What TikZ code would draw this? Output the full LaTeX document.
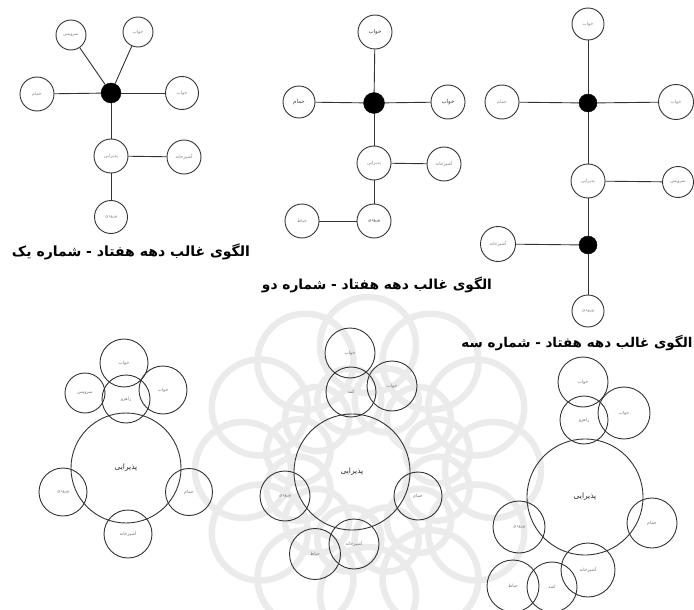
\documentclass[tikz,border=0pt]{standalone}
\usepackage{fontspec}
\usepackage{graphicx}
\usetikzlibrary{calc}
\newfontfamily\arabicfont[Script=Arabic]{DejaVu Sans}
\TeXXeTstate=1
\newcommand{\fa}[1]{{\arabicfont\beginR #1\endR}}
\begin{document}
\begin{tikzpicture}[x=1pt,y=-1pt,
  gnode/.style={circle, draw=black!80, line width=0.9pt, fill=white, inner sep=0pt, text=black!50, font=\fontsize{4.5}{5}\selectfont},
  hubnode/.style={circle, draw=black, fill=black, inner sep=0pt},
  bub/.style={circle, draw=black!80, line width=0.9pt, inner sep=0pt, text=black!55, font=\fontsize{4.5}{5}\selectfont},
  bigbub/.style={bub, text=black!85, font=\fontsize{7.5}{8}\selectfont},
  edge/.style={draw=black!80, line width=0.9pt},
  captext/.style={inner sep=0pt, text=black},
  wm/.style={draw=black!8, line width=6.5pt}]
\path[use as bounding box] (0,0) rectangle (694,610);
\begin{scope}
\clip (0,0) rectangle (694,610);
% watermark rosette
\foreach \a in {0,30,...,330}{
  \draw[wm] ($(368,470)+(\a:125)$) circle[radius=48];
  \draw[wm] ($(368,470)+(\a+15:72)$) circle[radius=32];
}
\end{scope}

% ---------- graph 1 ----------
\node[hubnode, minimum size=20] (h1) at (111,93) {};
\node[gnode, minimum size=30] (a1) at (71,35) {\fa{سرویس}};
\node[gnode, minimum size=30] (b1) at (138,32) {\fa{خواب}};
\node[gnode, minimum size=33] (c1) at (182,93) {\fa{خواب}};
\node[gnode, minimum size=34] (d1) at (37,94) {\fa{حمام}};
\node[gnode, minimum size=34] (e1) at (111,156) {\fa{پذیرایی}};
\node[gnode, minimum size=34] (f1) at (184,157) {\fa{آشپزخانه}};
\node[gnode, minimum size=33] (g1) at (111,217) {\fa{ورودی}};
\draw[edge] (h1) -- (a1);
\draw[edge] (h1) -- (b1);
\draw[edge] (h1) -- (c1);
\draw[edge] (h1) -- (d1);
\draw[edge] (h1) -- (e1);
\draw[edge] (e1) -- (f1);
\draw[edge] (e1) -- (g1);
\node[captext] (cap1) at (131,252) {\resizebox{238pt}{!}{\fa{\bfseries الگوی غالب دهه هفتاد - شماره یک}}};

% ---------- graph 2 ----------
\node[hubnode, minimum size=21] (h2) at (374,103) {};
\node[gnode, minimum size=34, text=black!75, font=\fontsize{5.5}{6}\selectfont] (a2) at (375,32) {\fa{خواب}};
\node[gnode, minimum size=32, text=black!75, font=\fontsize{5.5}{6}\selectfont] (b2) at (299,102) {\fa{حمام}};
\node[gnode, minimum size=34, text=black!75, font=\fontsize{5.5}{6}\selectfont] (c2) at (448,102) {\fa{خواب}};
\node[gnode, minimum size=34] (e2) at (374,163) {\fa{پذیرایی}};
\node[gnode, minimum size=34] (f2) at (444,164) {\fa{آشپزخانه}};
\node[gnode, minimum size=34, text=black!75] (g2) at (374,221) {\fa{ورودی}};
\node[gnode, minimum size=34] (k2) at (302,221) {\fa{حیاط}};
\draw[edge] (h2) -- (a2);
\draw[edge] (h2) -- (b2);
\draw[edge] (h2) -- (c2);
\draw[edge] (h2) -- (e2);
\draw[edge] (e2) -- (f2);
\draw[edge] (e2) -- (g2);
\draw[edge] (g2) -- (k2);
\node[captext] (cap2) at (377,285) {\resizebox{230pt}{!}{\fa{\bfseries الگوی غالب دهه هفتاد - شماره دو}}};

% ---------- graph 3 ----------
\node[hubnode, minimum size=18] (h3) at (588,103) {};
\node[gnode, minimum size=32] (a3) at (588,24) {\fa{خواب}};
\node[gnode, minimum size=34] (b3) at (502,102) {\fa{حمام}};
\node[gnode, minimum size=35] (c3) at (676,102) {\fa{خواب}};
\node[gnode, minimum size=34] (e3) at (588,181) {\fa{پذیرایی}};
\node[gnode, minimum size=31] (f3) at (678,182) {\fa{سرویس}};
\node[hubnode, minimum size=18] (h4) at (588,245) {};
\node[gnode, minimum size=35] (k3) at (498,244) {\fa{آشپزخانه}};
\node[gnode, minimum size=32] (g3) at (588,311) {\fa{ورودی}};
\draw[edge] (h3) -- (a3);
\draw[edge] (h3) -- (b3);
\draw[edge] (h3) -- (c3);
\draw[edge] (h3) -- (e3);
\draw[edge] (e3) -- (f3);
\draw[edge] (e3) -- (h4);
\draw[edge] (h4) -- (k3);
\draw[edge] (h4) -- (g3);
\node[captext] (cap3) at (577,343) {\resizebox{231pt}{!}{\fa{\bfseries الگوی غالب دهه هفتاد - شماره سه}}};

% ---------- bubble 1 ----------
\node[bigbub, minimum size=110] (p1) at (126,468) {\fa{پذیرایی}};
\node[bub, minimum size=48] (t1) at (124,363) {\fa{خواب}};
\node[bub, minimum size=48] (m1) at (126,399) {\fa{راهرو}};
\node[bub, minimum size=40] (l1) at (85,393) {\fa{سرویس}};
\node[bub, minimum size=48] (r1) at (163,390) {\fa{خواب}};
\node[bub, minimum size=48] (ll1) at (63,492) {\fa{ورودی}};
\node[bub, minimum size=47] (rr1) at (189,492) {\fa{حمام}};
\node[bub, minimum size=48] (bb1) at (128,534) {\fa{آشپزخانه}};

% ---------- bubble 2 ----------
\node[bigbub, minimum size=116] (p2) at (352,472) {\fa{پذیرایی}};
\node[bub, minimum size=50] (t2) at (350,353) {\fa{خواب}};
\node[bub, minimum size=50] (m2) at (351,392) {\fa{کمد}};
\node[bub, minimum size=50] (r2) at (392,386) {\fa{خواب}};
\node[bub, minimum size=50] (ll2) at (285,496) {\fa{ورودی}};
\node[bub, minimum size=48] (rr2) at (418,496) {\fa{حمام}};
\node[bub, minimum size=50] (bb2) at (354,544) {\fa{آشپزخانه}};
\node[bub, minimum size=51] (bl2) at (315,554) {\fa{حیاط}};

% ---------- bubble 3 ----------
\node[bigbub, minimum size=116] (p3) at (585,497) {\fa{پذیرایی}};
\node[bub, minimum size=50] (t3) at (583,382) {\fa{خواب}};
\node[bub, minimum size=48] (m3) at (584,420) {\fa{راهرو}};
\node[bub, minimum size=52] (r3) at (624,413) {\fa{خواب}};
\node[bub, minimum size=52] (ll3) at (519,527) {\fa{ورودی}};
\node[bub, minimum size=50] (rr3) at (652,523) {\fa{حمام}};
\node[bub, minimum size=54] (br3) at (588,570) {\fa{آشپزخانه}};
\node[bub, minimum size=50] (bm3) at (552,587) {\fa{کمد}};
\node[bub, minimum size=52] (bl3) at (513,586) {\fa{حیاط}};
\end{tikzpicture}
\end{document}
